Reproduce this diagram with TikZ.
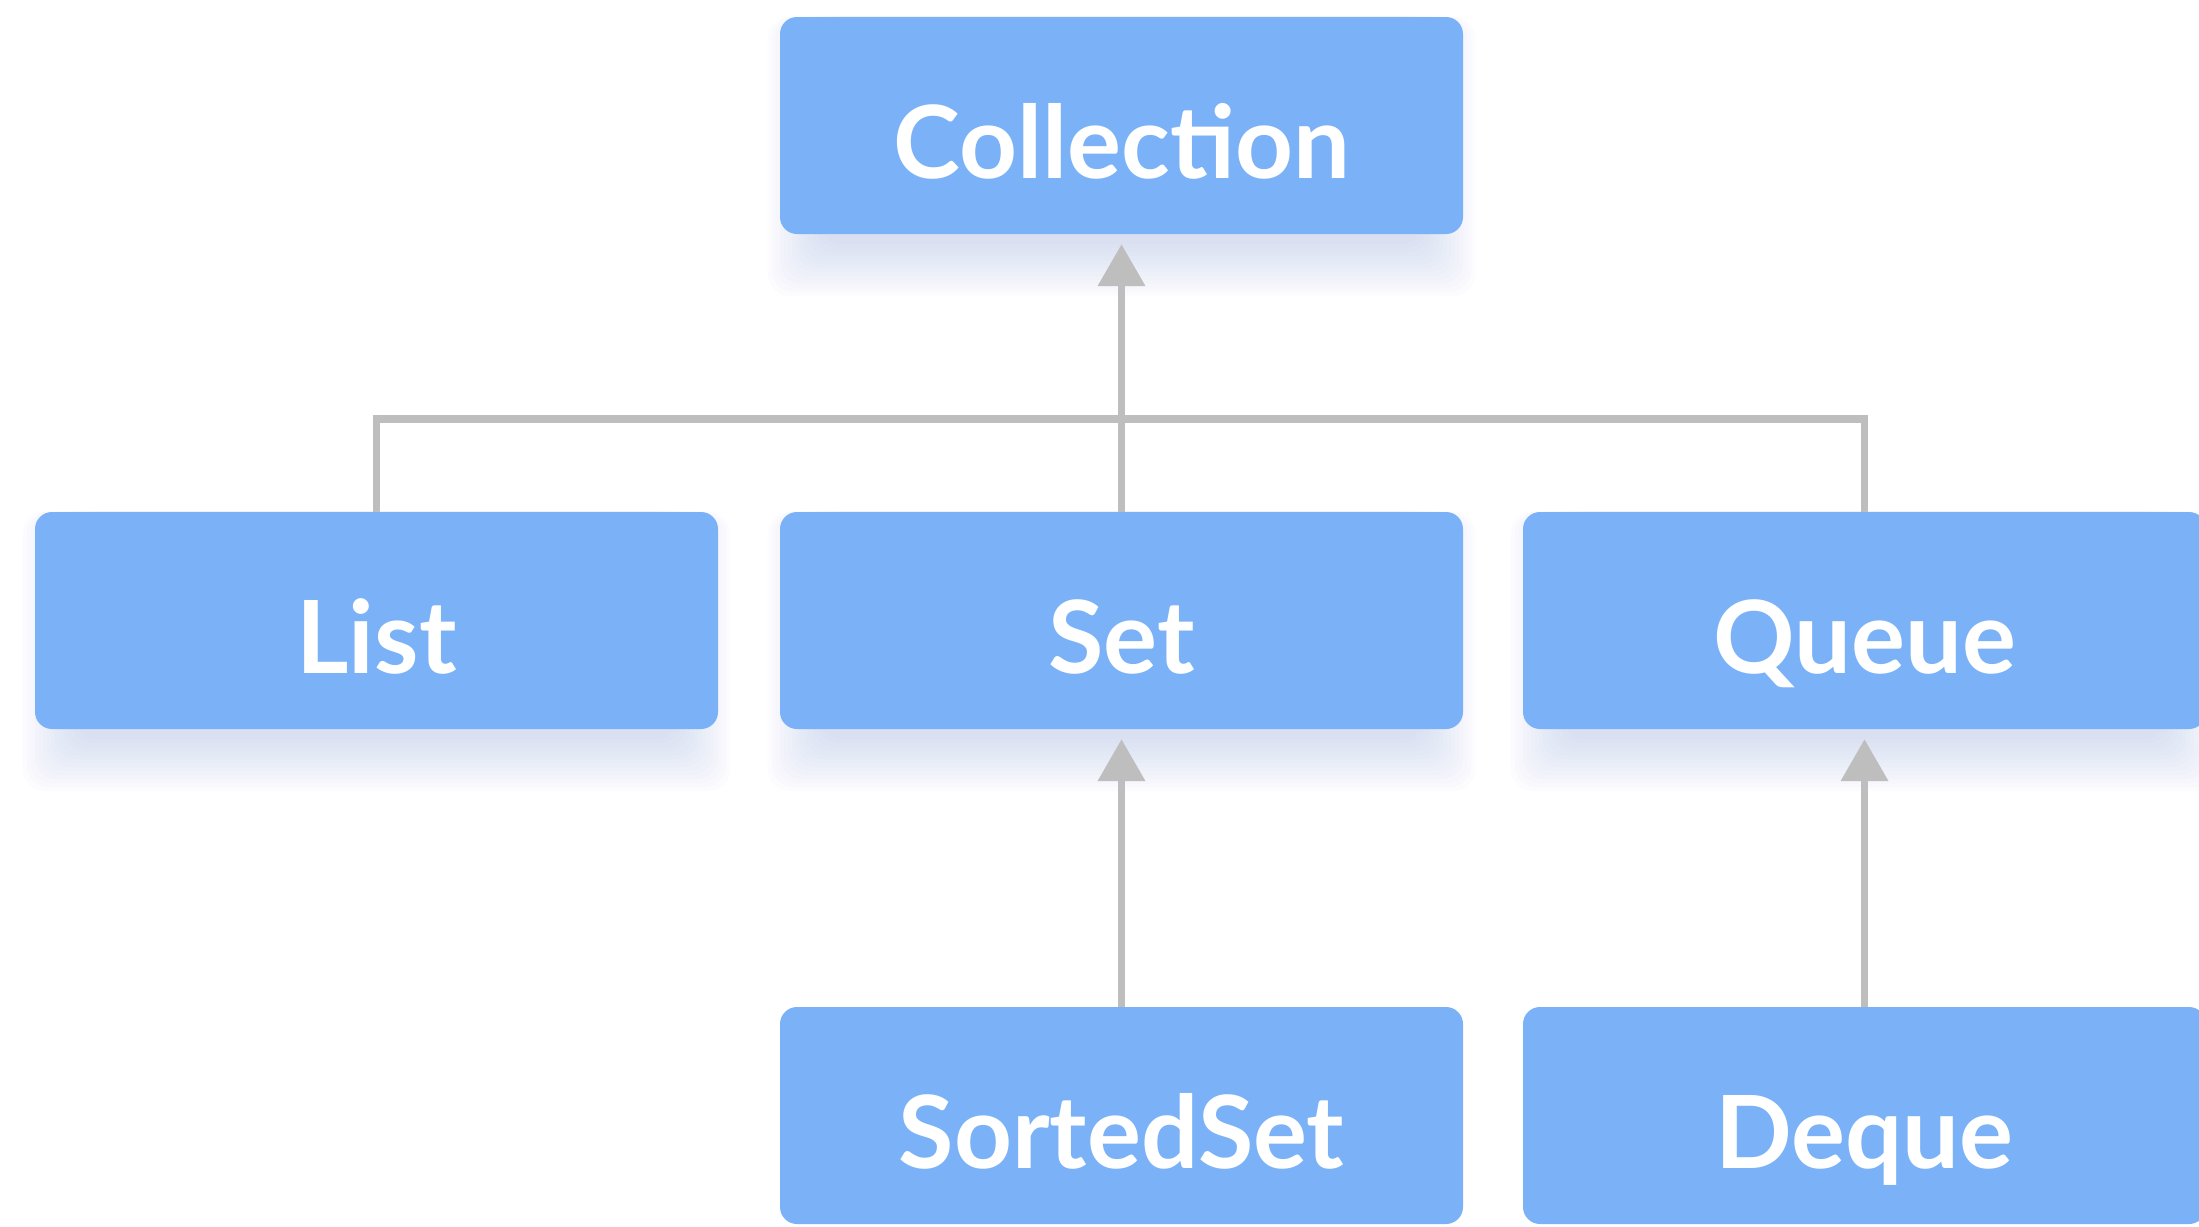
\documentclass[tikz,border=0pt]{standalone}
\usepackage{fontspec}
\setmainfont{Lato}
\usetikzlibrary{arrows.meta}
\definecolor{boxblue}{RGB}{123,178,247}
\definecolor{linegray}{RGB}{190,190,190}
\definecolor{shadowblue}{RGB}{165,185,238}
\pgfdeclarelayer{back}
\pgfdeclarelayer{shadowlayer}
\pgfsetlayers{back,shadowlayer,main}
\begin{document}
\begin{tikzpicture}[x=1pt,y=-1pt,
  cls/.style={rectangle, rounded corners=17pt, fill=boxblue, minimum width=683pt,
    minimum height=217pt, inner sep=0pt, text=white,
    font=\fontsize{101}{110}\selectfont\bfseries, text height=105pt, text depth=0pt},
  conn/.style={draw=linegray, line width=7.5pt},
  arr/.style={conn, -{Triangle[length=42pt,width=46pt]}, shorten >=10pt},
  shadowpiece/.style={fill=shadowblue, draw=none, opacity=0.03, rounded corners=22pt}]
\useasboundingbox (0,0) rectangle (2199,1226);
\begin{pgfonlayer}{back}
\fill[white] (0,0) rectangle (2199,1226);
\end{pgfonlayer}
\node[cls] (coll) at (1121.5,125.5) {Collection};
\node[cls] (list) at (376.5,620.5) {List};
\node[cls] (set) at (1121.5,620.5) {Set};
\node[cls] (queue) at (1864.5,620.5) {Queue};
\node[cls] (sorted) at (1121.5,1115.5) {SortedSet};
\node[cls] (deque) at (1864.5,1115.5) {Deque};
\begin{pgfonlayer}{shadowlayer}
\foreach \n in {coll,list,set,queue}
  \foreach \r in {0,4,...,52}
    \fill[shadowpiece] ([xshift={(40-\r)*1pt}]\n.north west) rectangle ([xshift={(\r-40)*1pt},yshift={(-10-\r)*1pt}]\n.south east);
\end{pgfonlayer}
\coordinate (bar) at (0,419);
\draw[conn] (list.north) -- (list.north |- bar) -- (queue.north |- bar) -- (queue.north);
\draw[arr] (set.north) -- (coll.south);
\draw[arr] (sorted.north) -- (set.south);
\draw[arr] (deque.north) -- (queue.south);
\end{tikzpicture}
\end{document}
